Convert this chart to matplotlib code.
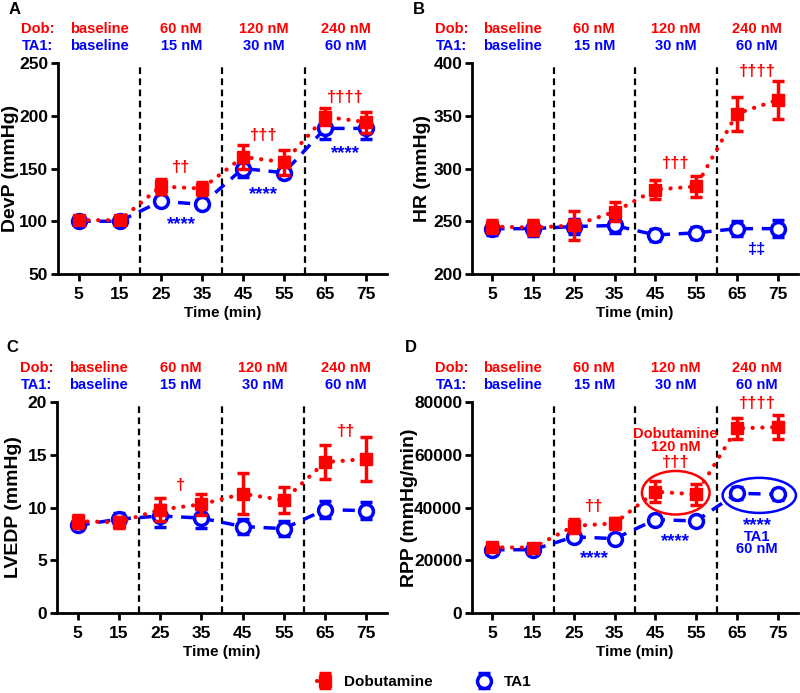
import numpy as np
import matplotlib.pyplot as plt
from matplotlib.patches import Ellipse

plt.rcParams['font.family'] = ['Liberation Sans', 'DejaVu Sans']
plt.rcParams['font.weight'] = 'bold'

RED = '#ff0000'
BLUE = '#0000ff'

# time points (min) and dose labels per 20-min period
time = [5, 15, 25, 35, 45, 55, 65, 75]
dose_x = [10, 30, 50, 70]
dob_doses = ['baseline', '60 nM', '120 nM', '240 nM']
ta1_doses = ['baseline', '15 nM', '30 nM', '60 nM']
switch_times = [20, 40, 60]

# A: developed pressure
devp_dob = [101, 101, 133, 131, 161, 156, 199, 194]
devp_dob_err = [3, 3, 7, 6, 11, 12, 8, 10]
devp_ta1 = [100, 100, 119, 116, 150, 146, 188, 188]
devp_ta1_err = [2, 2, 3, 2, 8, 5, 10, 10]

# B: heart rate
hr_dob = [245, 244, 246, 259, 280, 283, 352, 365]
hr_dob_err = [6, 7, 14, 9, 9, 10, 16, 18]
hr_ta1 = [243, 243, 245, 246, 237, 239, 243, 243]
hr_ta1_err = [6, 7, 7, 7, 6, 6, 7, 8]

# C: LVEDP
lvedp_dob = [8.7, 8.6, 9.8, 10.3, 11.3, 10.7, 14.3, 14.6]
lvedp_dob_err = [0.6, 0.5, 1.1, 1.0, 1.95, 1.2, 1.6, 2.1]
lvedp_ta1 = [8.3, 8.9, 9.2, 9.0, 8.2, 8.0, 9.8, 9.7]
lvedp_ta1_err = [0.3, 0.6, 1.0, 0.9, 0.7, 0.7, 0.8, 0.8]

# D: rate pressure product
rpp_dob = [24900, 24800, 33000, 34000, 46000, 45000, 70000, 70500]
rpp_dob_err = [1000, 1000, 2500, 2000, 4000, 4000, 4000, 4700]
rpp_ta1 = [24000, 24000, 28900, 28200, 35400, 34900, 45400, 45000]
rpp_ta1_err = [800, 800, 1000, 800, 1200, 900, 2200, 2000]

panels = [
    dict(label='A', ylabel='DevP (mmHg)', dob=devp_dob, dob_err=devp_dob_err,
         ta1=devp_ta1, ta1_err=devp_ta1_err, ylim=(50, 250), step=50, ylab_x=-0.118,
         notes=[(30, 151, '††', RED), (50, 181, '†††', RED), (70, 217, '††††', RED),
                (30, 97, '****', BLUE), (50, 125, '****', BLUE), (70, 164, '****', BLUE)]),
    dict(label='B', ylabel='HR (mmHg)', dob=hr_dob, dob_err=hr_dob_err,
         ta1=hr_ta1, ta1_err=hr_ta1_err, ylim=(200, 400), step=50, ylab_x=-0.126,
         notes=[(50, 305, '†††', RED), (70, 392, '††††', RED), (70, 223, '‡‡', BLUE)]),
    dict(label='C', ylabel='LVEDP (mmHg)', dob=lvedp_dob, dob_err=lvedp_dob_err,
         ta1=lvedp_ta1, ta1_err=lvedp_ta1_err, ylim=(0, 20), step=5, ylab_x=-0.106,
         notes=[(30, 12.1, '†', RED), (70, 17.2, '††', RED)]),
    dict(label='D', ylabel='RPP (mmHg/min)', dob=rpp_dob, dob_err=rpp_dob_err,
         ta1=rpp_ta1, ta1_err=rpp_ta1_err, ylim=(0, 80000), step=20000, ylab_x=-0.166,
         notes=[(30, 40500, '††', RED), (50, 67900, 'Dobutamine', RED), (50, 62800, '120 nM', RED),
                (50, 57000, '†††', RED), (70, 79400, '††††', RED),
                (30, 20600, '****', BLUE), (50, 27200, '****', BLUE), (70, 33300, '****', BLUE),
                (70, 29000, 'TA1', BLUE), (70, 24200, '60 nM', BLUE)]),
]

fig = plt.figure(figsize=(8, 6.93), dpi=100)
rects = [[0.0725, 0.6046, 0.411, 0.3045], [0.59, 0.6046, 0.4075, 0.3045],
         [0.0712, 0.1154, 0.4125, 0.3045], [0.59, 0.1154, 0.4075, 0.3045]]
label_pos = [(0.011, 0.987), (0.516, 0.987), (0.008, 0.499), (0.506, 0.499)]

for p, rect, lp in zip(panels, rects, label_pos):
    ax = fig.add_axes(rect)
    for t in switch_times:
        ax.axvline(t, color='black', ls=(0, (3, 2)), lw=1.6, zorder=1)

    ax.errorbar(time, p['ta1'], yerr=p['ta1_err'], color=BLUE, ls=(0, (3.5, 2.5)), lw=2.5,
                marker='o', ms=10, mfc='white', mec=BLUE, mew=2.5,
                elinewidth=2.5, capsize=4, capthick=2.5, zorder=3, label='TA1')
    ax.errorbar(time, p['dob'], yerr=p['dob_err'], color=RED, ls=(0, (0.05, 2.3)), lw=3,
                dash_capstyle='round', marker='s', ms=9, mfc=RED, mec=RED,
                elinewidth=2.5, capsize=4, capthick=2.5, zorder=4, label='Dobutamine')

    ax.set_xlim(0, 80)
    ax.set_ylim(*p['ylim'])
    ax.set_xticks(time)
    ax.set_yticks(np.arange(p['ylim'][0], p['ylim'][1] + 1, p['step']))
    for s in ['top', 'right']:
        ax.spines[s].set_visible(False)
    for s in ['left', 'bottom']:
        ax.spines[s].set_linewidth(2)
    ax.tick_params(width=2, length=5, labelsize=12.5, pad=2)
    ax.tick_params(axis='x', pad=4)
    ax.set_ylabel(p['ylabel'], fontsize=14, fontweight='bold')
    ax.yaxis.set_label_coords(p['ylab_x'], 0.5)
    ax.set_xlabel('Time (min)', fontsize=11, fontweight='bold', labelpad=3)

    tr = ax.get_xaxis_transform()
    ax.text(-5, 1.16, 'Dob:', color=RED, fontsize=10.5, ha='center', va='center', transform=tr, clip_on=False)
    ax.text(-5, 1.08, 'TA1:', color=BLUE, fontsize=10.5, ha='center', va='center', transform=tr, clip_on=False)
    for x, d1, d2 in zip(dose_x, dob_doses, ta1_doses):
        ax.text(x, 1.16, d1, color=RED, fontsize=10.5, ha='center', va='center', transform=tr, clip_on=False)
        ax.text(x, 1.08, d2, color=BLUE, fontsize=10.5, ha='center', va='center', transform=tr, clip_on=False)

    for x, y, s, c in p['notes']:
        if s == '****':
            fs = 13.5
        elif s[0] in '†‡':
            fs = 12
        else:
            fs = 10.5
        ax.text(x, y, s, color=c, fontsize=fs, ha='center', va='center', zorder=5)

    if p['label'] == 'D':
        ax.add_patch(Ellipse((50, 45600), 16.6, 16500, fill=False, ec=RED, lw=1.8, zorder=5))
        ax.add_patch(Ellipse((70.5, 44600), 18, 13300, fill=False, ec=BLUE, lw=1.8,
                             zorder=5, clip_on=False))

    fig.text(lp[0], lp[1], p['label'], fontsize=12, fontweight='bold', va='center')

handles, labels = ax.get_legend_handles_labels()
fig.legend(handles[::-1], labels[::-1], loc='center', bbox_to_anchor=(0.53, 0.016), ncol=2,
           frameon=False, fontsize=11, handlelength=1.1, handletextpad=0.7, columnspacing=2.8)

fig.savefig('out.png', dpi=100)
